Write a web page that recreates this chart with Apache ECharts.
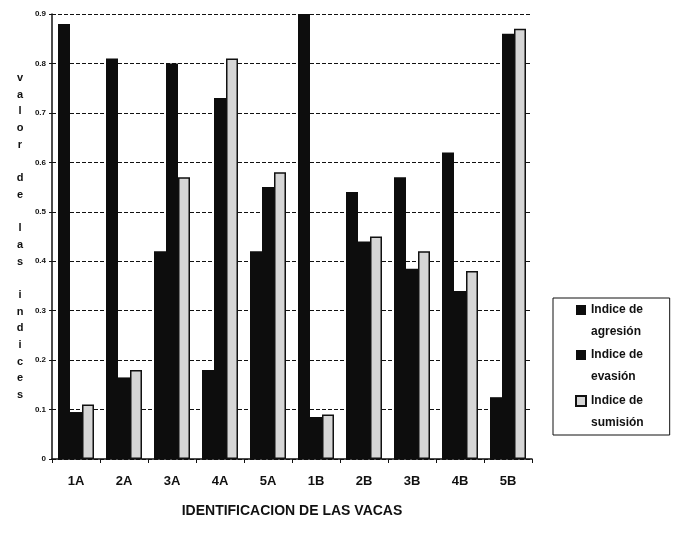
<!DOCTYPE html>
<html>
<head>
<meta charset="utf-8">
<script src="https://cdn.jsdelivr.net/npm/echarts@6/dist/echarts.min.js"></script>
<style>html,body{margin:0;padding:0;background:#fff;}#c{width:677px;height:534px;}</style>
</head>
<body>
<div id="c"></div>
<script>
const categories = ['1A','2A','3A','4A','5A','1B','2B','3B','4B','5B'];
const agresion = [0.88, 0.81, 0.42, 0.18, 0.42, 0.90, 0.54, 0.57, 0.62, 0.125];
const evasion  = [0.095, 0.165, 0.80, 0.73, 0.55, 0.085, 0.44, 0.385, 0.34, 0.86];
const sumision = [0.11, 0.18, 0.57, 0.81, 0.58, 0.09, 0.45, 0.42, 0.38, 0.87];
const seriesNames = ['Indice de\nagresión', 'Indice de\nevasión', 'Indice de\nsumisión'];
const yTicks = ['0','0.1','0.2','0.3','0.4','0.5','0.6','0.7','0.8','0.9'];
const yName = 'valor de las indices';

const chart = echarts.init(document.getElementById('c'), null, {renderer: 'canvas'});
const FONT = 'Liberation Sans';
// legend icon: square at the top of a two-line-tall box so it lines up with the first text line
const legendIcon = 'path://M0,0M0,6L10,6L10,16L0,16ZM10,44';
chart.setOption({
  backgroundColor: '#ffffff',
  animation: false,
  grid: {left: 52, right: 145, top: 14, bottom: 75, containLabel: false},
  legend: {
    orient: 'vertical',
    left: 553, top: 298,
    padding: [1, 26, 0, 22],
    itemGap: 1,
    icon: legendIcon,
    itemWidth: 10, itemHeight: 44,
    borderColor: '#111', borderWidth: 1,
    textStyle: {fontFamily: FONT, fontSize: 12, fontWeight: 'bold', color: '#111', lineHeight: 22},
    data: seriesNames
  },
  xAxis: {
    type: 'category',
    data: categories,
    name: 'IDENTIFICACION DE LAS VACAS',
    nameLocation: 'middle',
    nameGap: 45,
    nameTextStyle: {fontFamily: FONT, fontSize: 14, fontWeight: 'bold', color: '#111'},
    axisLine: {lineStyle: {color: '#111', width: 1.5}},
    axisTick: {show: true, length: 4, lineStyle: {color: '#111'}},
    axisLabel: {fontFamily: FONT, fontSize: 13, fontWeight: 'bold', color: '#111', margin: 16},
    splitLine: {show: false}
  },
  yAxis: {
    type: 'value',
    min: 0, max: 0.9, interval: 0.1,
    name: yName.split('').map(ch => ch === ' ' ? '' : ch).join('\n'),
    nameLocation: 'middle',
    nameRotate: 0,
    nameGap: 32,
    nameTextStyle: {fontFamily: FONT, fontSize: 11, fontWeight: 'bold', color: '#111', lineHeight: 16.7, align: 'center', verticalAlign: 'middle'},
    axisLine: {show: true, lineStyle: {color: '#111', width: 1.5}},
    axisTick: {show: true, length: 3, lineStyle: {color: '#111'}},
    axisLabel: {
      fontFamily: FONT, fontSize: 8, fontWeight: 'bold', color: '#111', margin: 6,
      formatter: (v) => yTicks[Math.round(v * 10)]
    },
    splitLine: {show: true, lineStyle: {color: '#111', type: [4, 2], width: 1}}
  },
  series: [
    {name: seriesNames[0], type: 'bar', data: agresion, barGap: '0%', barCategoryGap: '25%',
     itemStyle: {color: '#0d0d0d'}},
    {name: seriesNames[1], type: 'bar', data: evasion, barGap: '0%', barCategoryGap: '25%',
     itemStyle: {color: '#0d0d0d'}},
    {name: seriesNames[2], type: 'bar', data: sumision, barGap: '0%', barCategoryGap: '25%',
     itemStyle: {color: '#d6d6d6', borderColor: '#111', borderWidth: 1.5}}
  ]
});
</script>
</body>
</html>
